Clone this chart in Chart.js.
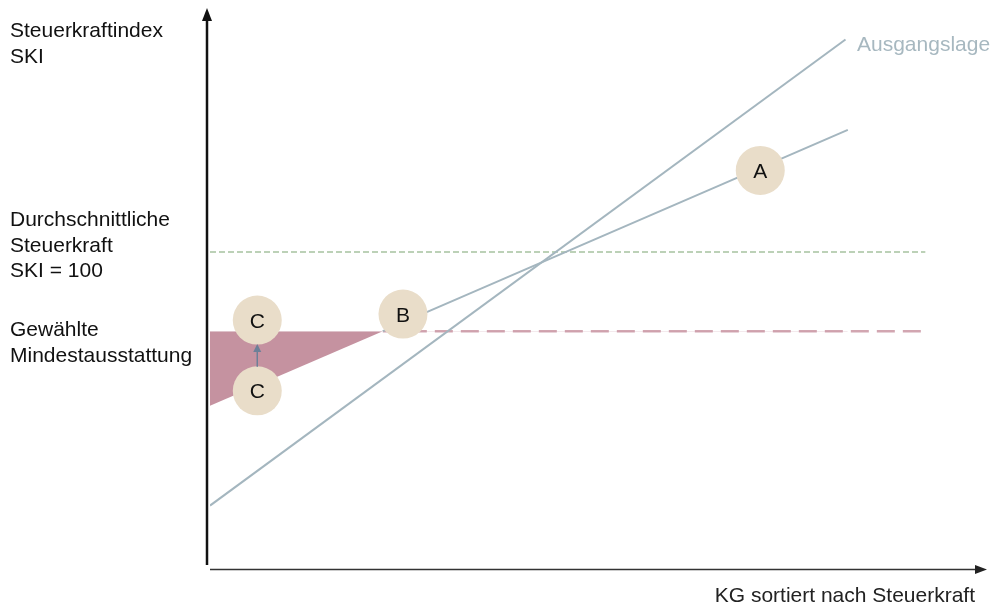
<!DOCTYPE html>
<html>
<head>
<meta charset="utf-8">
<script src="https://cdn.jsdelivr.net/npm/chart.js@4/dist/chart.umd.min.js"></script>
<style>
  html, body { margin: 0; padding: 0; background: #fff; }
  #chart { display: block; }
</style>
</head>
<body>
<canvas id="chart" width="994" height="606"></canvas>
<script>
// x = KG sortiert nach Steuerkraft (0..100), y = SKI
const ausgangslageX = [0, 82];
const ausgangslageY = [20, 167];
const ausgleichX = [0, 22.3, 82.3];
const ausgleichY = [51.5, 75, 138.5];
const durchschnitt = 100;
const mindest = 75;
const niveauEndeX = 92;
const markerLabels = ['A', 'B', 'C', 'C'];
const markerX = [71, 24.9, 6.1, 6.1];
const markerY = [125.7, 80.4, 78.5, 56.2];

const yAxisLabels = [
    ['Steuerkraftindex', 'SKI'],
    ['Durchschnittliche', 'Steuerkraft', 'SKI = 100'],
    ['Gewählte', 'Mindestausstattung']
];
const xAxisTitle = 'KG sortiert nach Steuerkraft';
const lineLabel = 'Ausgangslage';

const toPoints = (xs, ys) => xs.map((x, i) => ({ x: x, y: ys[i] }));
const FONT = '21px "Liberation Sans", Arial, sans-serif';

const diagramPlugin = {
    id: 'diagram',
    beforeDatasetsDraw(chart) {
        const ctx = chart.ctx;
        const area = chart.chartArea;
        ctx.save();
        // y axis with arrow
        ctx.strokeStyle = '#111';
        ctx.fillStyle = '#111';
        ctx.lineWidth = 2.5;
        ctx.beginPath();
        ctx.moveTo(207, 565);
        ctx.lineTo(207, 18);
        ctx.stroke();
        ctx.beginPath();
        ctx.moveTo(207, 8);
        ctx.lineTo(202, 21);
        ctx.lineTo(212, 21);
        ctx.closePath();
        ctx.fill();
        // x axis with arrow
        ctx.strokeStyle = '#333';
        ctx.fillStyle = '#222';
        ctx.lineWidth = 1.5;
        ctx.beginPath();
        ctx.moveTo(area.left, 569.5);
        ctx.lineTo(976, 569.5);
        ctx.stroke();
        ctx.beginPath();
        ctx.moveTo(987, 569.5);
        ctx.lineTo(975, 565);
        ctx.lineTo(975, 574);
        ctx.closePath();
        ctx.fill();
        ctx.restore();
    },
    afterDatasetsDraw(chart) {
        const ctx = chart.ctx;
        const xs = chart.scales.x, ys = chart.scales.y;
        ctx.save();
        // arrow between the two C markers
        const ax = xs.getPixelForValue(markerX[3]);
        const yFrom = ys.getPixelForValue(markerY[3]) - 24;
        const yTo = ys.getPixelForValue(markerY[2]) + 24;
        ctx.strokeStyle = '#6d8098';
        ctx.fillStyle = '#6d8098';
        ctx.lineWidth = 1.5;
        ctx.beginPath();
        ctx.moveTo(ax, yFrom);
        ctx.lineTo(ax, yTo + 6);
        ctx.stroke();
        ctx.beginPath();
        ctx.moveTo(ax, yTo);
        ctx.lineTo(ax - 4, yTo + 8);
        ctx.lineTo(ax + 4, yTo + 8);
        ctx.closePath();
        ctx.fill();

        // letters in the markers
        const meta = chart.getDatasetMeta(0);
        ctx.font = FONT;
        ctx.fillStyle = '#111';
        ctx.textAlign = 'center';
        ctx.textBaseline = 'alphabetic';
        meta.data.forEach((pt, i) => {
            ctx.fillText(markerLabels[i], pt.x, pt.y + 7.5);
        });

        // axis texts
        ctx.textAlign = 'left';
        const starts = [37, 226, 336];
        yAxisLabels.forEach((group, g) => {
            group.forEach((line, i) => {
                ctx.fillText(line, 10, starts[g] + i * 25.5);
            });
        });
        ctx.textAlign = 'right';
        ctx.fillStyle = '#222';
        ctx.fillText(xAxisTitle, 975, 602);
        ctx.textAlign = 'left';
        ctx.fillStyle = '#a7b8c0';
        ctx.fillText(lineLabel, 857, 51);
        ctx.restore();
    }
};

new Chart(document.getElementById('chart'), {
    type: 'scatter',
    data: {
        datasets: [
            {
                label: 'Marker',
                data: toPoints(markerX, markerY),
                pointRadius: 24.5,
                pointHoverRadius: 24.5,
                pointBackgroundColor: '#e9ddc9',
                pointBorderWidth: 0,
                showLine: false,
                order: 0
            },
            {
                label: 'Nach Ausgleich',
                data: toPoints(ausgleichX, ausgleichY),
                showLine: true,
                borderWidth: 2,
                borderColor: '#a4b6bf',
                segment: {
                    borderColor: c => c.p1.parsed.x <= ausgleichX[1] ? 'rgba(0,0,0,0)' : '#a4b6bf'
                },
                fill: { target: { value: mindest }, above: 'rgba(0,0,0,0)', below: '#c592a0' },
                pointRadius: 0,
                order: 2
            },
            {
                label: lineLabel,
                data: toPoints(ausgangslageX, ausgangslageY),
                showLine: true,
                borderWidth: 2,
                borderColor: '#a4b6bf',
                pointRadius: 0,
                order: 1
            },
            {
                label: 'Mindestausstattung',
                data: [{ x: ausgleichX[1], y: mindest }, { x: niveauEndeX, y: mindest }],
                showLine: true,
                borderWidth: 2.5,
                borderColor: '#d2a6b1',
                borderDash: [18, 8],
                pointRadius: 0,
                order: 3
            },
            {
                label: 'Durchschnitt',
                data: [{ x: 0, y: durchschnitt }, { x: niveauEndeX + 0.3, y: durchschnitt }],
                showLine: true,
                borderWidth: 1.5,
                borderColor: '#a6c2a0',
                borderDash: [6, 3],
                pointRadius: 0,
                order: 4
            }
        ]
    },
    options: {
        responsive: false,
        animation: false,
        layout: { autoPadding: false, padding: { left: 210, right: 9, top: 10, bottom: 37 } },
        plugins: { legend: { display: false }, tooltip: { enabled: false } },
        scales: {
            x: { type: 'linear', display: false, min: 0, max: 100 },
            y: { type: 'linear', display: false, min: 0, max: 176.3 }
        }
    },
    plugins: [diagramPlugin]
});
</script>
</body>
</html>
